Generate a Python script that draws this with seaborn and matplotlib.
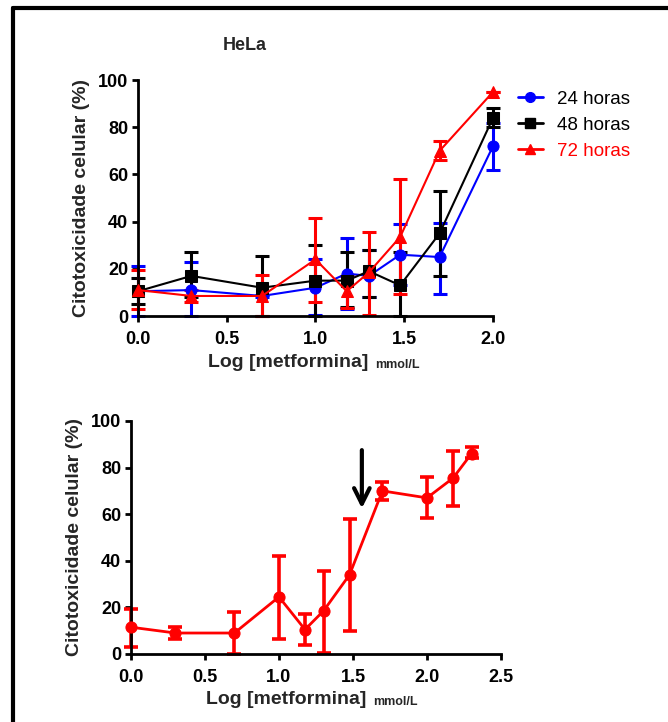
import numpy as np
import pandas as pd
import matplotlib
matplotlib.use("Agg")
import matplotlib.pyplot as plt
import seaborn as sns
from matplotlib.lines import Line2D

sns.set_style("ticks")
plt.rcParams['font.family'] = ['Liberation Sans', 'DejaVu Sans']

# ----------------------------
# Data
# ----------------------------
log_dose = [0.0, 0.301, 0.699, 1.0, 1.176, 1.301, 1.477, 1.699, 2.0]

h24 = [10.5, 11, 8.5, 12, 18, 17, 26, 25, 72]
h24_hi = [21, 23, 9, 24, 33, 28, 39, 39.5, 82]
h24_lo = [0, 0, 8, 0.5, 3, 8, 13, 9.5, 62]

h48 = [10.5, 17, 12, 15, 15, 19, 13, 35, 84]
h48_hi = [16, 27, 25.5, 30, 27, 28, 27, 53, 88]
h48_lo = [5, 8, 0, 0, 4, 8, 0, 17, 80]

h72 = [11, 8.5, 8.5, 24, 10.5, 18.5, 33.5, 70, 95]
h72_hi = [19.5, 11, 17.5, 41.5, 17, 35.5, 58, 74, 95]
h72_lo = [3, 6, 0, 6, 3.5, 0.5, 9.5, 66, 95]

log_dose2 = [0.0, 0.301, 0.699, 1.0, 1.176, 1.301, 1.477, 1.699, 2.0, 2.176, 2.301]
tox2 = [11.5, 9, 9, 24.5, 10.5, 18.5, 34, 70, 67, 75.5, 86]
tox2_hi = [19.5, 11.5, 18, 42, 17, 35.5, 58, 74, 76, 87, 89]
tox2_lo = [3, 6.5, 0, 6.5, 4, 0.5, 10, 66, 58.5, 63.5, 84]

series = [
    ("24 horas", h24, h24_lo, h24_hi, "#0000ff", "o"),
    ("48 horas", h48, h48_lo, h48_hi, "black", "s"),
    ("72 horas", h72, h72_lo, h72_hi, "#ff0000", "^"),
]

fig = plt.figure(figsize=(6.68, 7.22), dpi=100)
ax1 = fig.add_axes([0.2066, 0.5623, 0.5314, 0.3267])
ax2 = fig.add_axes([0.196, 0.0942, 0.554, 0.3227])

# ----------------------------
# Top panel: three time points
# ----------------------------
for name, y, lo, hi, col, mk in series:
    df = pd.DataFrame({"x": log_dose, "y": y})
    y = np.array(y)
    err = [y - np.array(lo), np.array(hi) - y]
    ax1.errorbar(log_dose, y, yerr=err, fmt="none", ecolor=col,
                 elinewidth=2.2, capsize=5, capthick=2.2, zorder=2)
    sns.lineplot(data=df, x="x", y="y", ax=ax1, color=col, marker=mk,
                 markersize=8, markeredgecolor=col, linewidth=1.5,
                 label=name, zorder=3)

ax1.set_xlim(0, 2.0)
ax1.set_ylim(0, 100)
ax1.set_xticks([0, 0.5, 1.0, 1.5, 2.0])
ax1.set_yticks(range(0, 101, 20))

handles = [Line2D([], [], color=c, marker=m, markersize=7, linewidth=2)
           for _, _, _, _, c, m in series]
leg = ax1.legend(handles, [s[0] for s in series], loc="upper left",
                 bbox_to_anchor=(1.022, 1.028), frameon=False, fontsize=13.5,
                 handlelength=1.35, handletextpad=0.75, labelspacing=0.48)
for t, s in zip(leg.get_texts(), series):
    t.set_color("black" if s[0] != "72 horas" else "#ff0000")

# ----------------------------
# Bottom panel: 72 h extended
# ----------------------------
df2 = pd.DataFrame({"x": log_dose2, "y": tox2})
t2 = np.array(tox2)
ax2.errorbar(log_dose2, t2, yerr=[t2 - np.array(tox2_lo), np.array(tox2_hi) - t2],
             fmt="none", ecolor="#ff0000", elinewidth=2.6, capsize=5,
             capthick=2.6, zorder=2)
sns.lineplot(data=df2, x="x", y="y", ax=ax2, color="#ff0000", marker="o",
             markersize=8, markeredgecolor="#ff0000", linewidth=2, zorder=3)
ax2.annotate("", xy=(1.56, 62.5), xytext=(1.56, 87.5),
             arrowprops=dict(arrowstyle="->", color="black", lw=3,
                             mutation_scale=28, shrinkA=0, shrinkB=0))
ax2.set_xlim(0, 2.5)
ax2.set_ylim(0, 100)
ax2.set_xticks([0, 0.5, 1.0, 1.5, 2.0, 2.5])
ax2.set_yticks(range(0, 101, 20))

for ax, lx in ((ax1, 0.423), (ax2, 0.419)):
    sns.despine(ax=ax)
    for sp in ("left", "bottom"):
        ax.spines[sp].set_linewidth(2)
        ax.spines[sp].set_color("black")
    ax.tick_params(width=2, length=4, labelsize=13, colors="black", pad=3)
    ax.tick_params(axis="x", pad=7)
    for lab in ax.get_xticklabels() + ax.get_yticklabels():
        lab.set_fontweight("bold")
    ax.xaxis.set_major_formatter(matplotlib.ticker.FormatStrFormatter("%.1f"))
    ax.set_ylabel("Citotoxicidade celular (%)", fontsize=14, fontweight="bold",
                  labelpad=6)
    xl = ax.set_xlabel("Log [metformina]", fontsize=14, fontweight="bold")
    ax.xaxis.set_label_coords(lx, -0.16)
    ax.annotate("mmol/L", xy=(1, 0), xycoords=xl, xytext=(5, 0),
                textcoords="offset points", fontsize=9, fontweight="bold",
                ha="left", va="bottom")
    for s in ax.collections + ax.lines:
        s.set_clip_on(False)

fig.text(0.367, 0.937, "HeLa", fontsize=13, fontweight="bold", ha="center", va="center")

# frame around the figure
fig.add_artist(Line2D([13 / 668, 13 / 668], [0, 1 - 8 / 722], color="black", lw=3,
                      transform=fig.transFigure))
fig.add_artist(Line2D([13 / 668, 1], [1 - 8 / 722, 1 - 8 / 722], color="black", lw=3,
                      transform=fig.transFigure))

fig.savefig("out.png", dpi=100)
